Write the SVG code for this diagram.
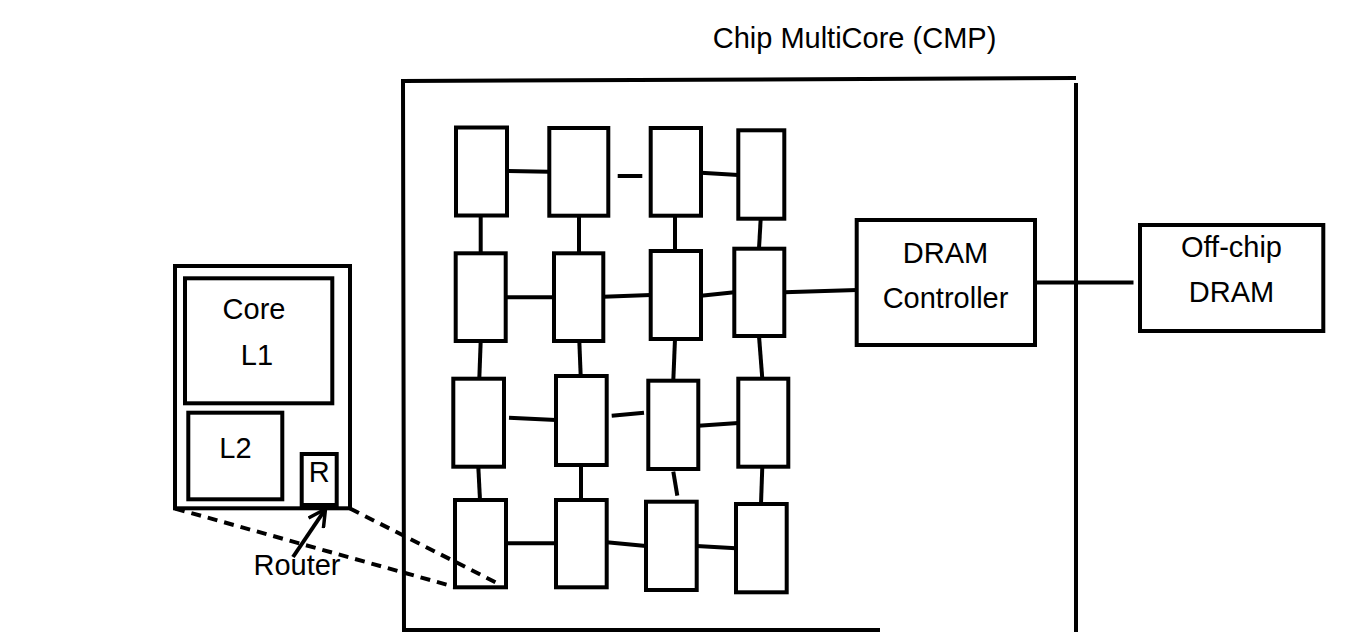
<svg xmlns="http://www.w3.org/2000/svg" width="1363" height="632" viewBox="0 0 1363 632">
  <style>
    .box { fill: #ffffff; stroke: #000000; stroke-width: 4; }
    .ln { fill: none; stroke: #000000; stroke-width: 4; }
    .dash { fill: none; stroke: #000000; stroke-width: 4; stroke-dasharray: 10 7; }
    .lbl { font-family: "Liberation Sans", Arial, sans-serif; font-size: 29px; fill: #000000; text-anchor: middle; }
  </style>
  <defs>
    <marker id="openArrow" viewBox="0 0 20 20" refX="18" refY="10" markerWidth="20" markerHeight="20" markerUnits="userSpaceOnUse" orient="auto">
      <path d="M1,1 L18,10 L1,19" fill="none" stroke="#000000" stroke-width="3.5"/>
    </marker>
  </defs>
  <rect width="1363" height="632" fill="#ffffff"/>

  <!-- chip outline (open on the lower right) -->
  <g id="chip">
    <path class="ln" d="M404,632 L403,81 L1076,78"/>
    <path class="ln" d="M1076,83 L1076,632"/>
    <path class="ln" d="M404,630 L880,630"/>
    <text class="lbl" x="854.5" y="48">Chip MultiCore (CMP)</text>
  </g>

  <!-- connectors -->
  <g id="connectors">
    <!-- row 1 -->
    <line class="ln" x1="506.7" y1="171" x2="549.3" y2="171.7"/>
    <line class="ln" x1="617.7" y1="176" x2="642.3" y2="176"/>
    <line class="ln" x1="701" y1="172.7" x2="738.3" y2="175"/>
    <!-- row 1 to row 2 -->
    <line class="ln" x1="480.7" y1="215.7" x2="480.7" y2="253.3"/>
    <line class="ln" x1="579" y1="215.7" x2="579" y2="253.3"/>
    <line class="ln" x1="675" y1="215.7" x2="675" y2="251"/>
    <line class="ln" x1="760.7" y1="218.7" x2="759" y2="248.7"/>
    <!-- row 2 -->
    <line class="ln" x1="505.7" y1="297.3" x2="554" y2="297.3"/>
    <line class="ln" x1="603.3" y1="296.7" x2="650.7" y2="295"/>
    <line class="ln" x1="701" y1="295.7" x2="734.3" y2="292.3"/>
    <line class="ln" x1="784.3" y1="292.3" x2="857" y2="290"/>
    <!-- row 2 to row 3 -->
    <line class="ln" x1="480.7" y1="341" x2="479.3" y2="378.7"/>
    <line class="ln" x1="579.3" y1="341" x2="580.7" y2="376"/>
    <line class="ln" x1="675" y1="339" x2="673.3" y2="380.7"/>
    <line class="ln" x1="759" y1="336" x2="762.3" y2="378.7"/>
    <!-- row 3 -->
    <line class="ln" x1="509" y1="417.7" x2="556" y2="420"/>
    <line class="ln" x1="611.7" y1="415.7" x2="644" y2="412.7"/>
    <line class="ln" x1="698.3" y1="425.7" x2="738.3" y2="423"/>
    <!-- row 3 to row 4 -->
    <line class="ln" x1="478.3" y1="466.7" x2="480" y2="500"/>
    <line class="ln" x1="581" y1="465" x2="581" y2="500"/>
    <line class="ln" x1="673.3" y1="471.7" x2="677.3" y2="495.7"/>
    <line class="ln" x1="762.3" y1="466.7" x2="761" y2="504"/>
    <!-- row 4 -->
    <line class="ln" x1="506" y1="543.3" x2="556" y2="543.3"/>
    <line class="ln" x1="606.7" y1="542.3" x2="646" y2="546"/>
    <line class="ln" x1="696.7" y1="546" x2="736" y2="548.3"/>
    <!-- controller to off-chip memory -->
    <line class="ln" x1="1035" y1="282.5" x2="1133.5" y2="282.5"/>
  </g>

  <!-- 4x4 grid of tiles -->
  <g id="n11"><rect class="box" x="456" y="127.5" width="51" height="88"/></g>
  <g id="n12"><rect class="box" x="549.3" y="128" width="59" height="87.7"/></g>
  <g id="n13"><rect class="box" x="650.7" y="128" width="50.3" height="87.7"/></g>
  <g id="n14"><rect class="box" x="738.3" y="130.3" width="46" height="88.4"/></g>

  <g id="n21"><rect class="box" x="455.7" y="253.3" width="50" height="87.7"/></g>
  <g id="n22"><rect class="box" x="554" y="253.3" width="49.3" height="87.7"/></g>
  <g id="n23"><rect class="box" x="650.7" y="251" width="50.3" height="88"/></g>
  <g id="n24"><rect class="box" x="734.3" y="248.7" width="50" height="87.3"/></g>

  <g id="n31"><rect class="box" x="453.3" y="378.7" width="50.7" height="88"/></g>
  <g id="n32"><rect class="box" x="556" y="376" width="50.7" height="89"/></g>
  <g id="n33"><rect class="box" x="648.3" y="380.7" width="50" height="88.3"/></g>
  <g id="n34"><rect class="box" x="738.3" y="378.7" width="50" height="88"/></g>

  <g id="n41"><rect class="box" x="455" y="500" width="51" height="87.3"/></g>
  <g id="n42"><rect class="box" x="556" y="500" width="50.7" height="87.3"/></g>
  <g id="n43"><rect class="box" x="646" y="501.7" width="50.7" height="88.3"/></g>
  <g id="n44"><rect class="box" x="736" y="504" width="50.7" height="88.3"/></g>

  <!-- memory controller and off-chip memory -->
  <g id="dram-controller">
    <rect class="box" x="856.7" y="220" width="178.3" height="125"/>
    <text class="lbl" x="945.5" y="262.5">DRAM</text>
    <text class="lbl" x="945.5" y="307.5">Controller</text>
  </g>
  <g id="offchip-dram">
    <rect class="box" x="1140" y="225" width="183.3" height="106"/>
    <text class="lbl" x="1231.5" y="256.5">Off-chip</text>
    <text class="lbl" x="1231.5" y="302">DRAM</text>
  </g>

  <!-- enlarged tile -->
  <g id="tile">
    <rect class="box" x="175" y="266" width="175" height="242.3"/>
  </g>
  <g id="core-l1">
    <rect class="box" x="185" y="278.3" width="147.3" height="125"/>
    <text class="lbl" x="254" y="319.3">Core</text>
    <text class="lbl" x="257" y="365">L1</text>
  </g>
  <g id="l2">
    <rect class="box" x="188.3" y="412.7" width="94" height="86.6"/>
    <text class="lbl" x="235.5" y="458.3">L2</text>
  </g>
  <g id="router">
    <rect class="box" x="301.7" y="454" width="35" height="51"/>
    <text class="lbl" x="319.3" y="481.7">R</text>
  </g>
  <g id="router-label">
    <text class="lbl" x="297" y="575">Router</text>
  </g>

  <!-- zoom lines from the enlarged tile to its grid node, and the router pointer -->
  <g id="callouts">
    <line class="dash" x1="175" y1="508.5" x2="455" y2="587"/>
    <line class="dash" x1="350" y1="508.5" x2="497" y2="583"/>
    <line class="ln" x1="293" y1="557" x2="325.5" y2="509" marker-end="url(#openArrow)"/>
  </g>
</svg>
